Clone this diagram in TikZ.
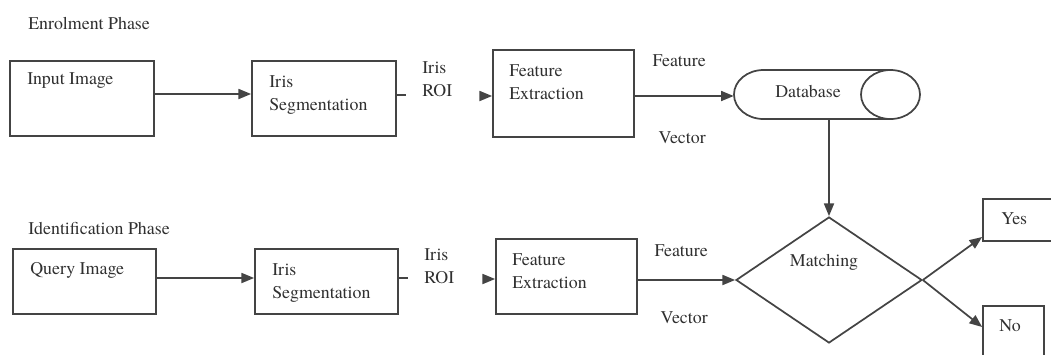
\documentclass[tikz,border=0pt]{standalone}
\usepackage{fontspec}
\setmainfont{TeX Gyre Termes}
\usetikzlibrary{shapes.geometric,arrows.meta}
\definecolor{ink}{HTML}{303030}
\definecolor{edge}{HTML}{444444}
\begin{document}
\begin{tikzpicture}[x=0.75pt,y=-0.75pt,
  ln/.style={draw=edge,line width=1.3pt},
  box/.style={ln,rectangle,inner sep=0pt},
  txt/.style={text=ink,font=\fontsize{13.4}{17.5}\selectfont,inner sep=0pt,align=left},
  arr/.style={ln,-{Triangle[length=9.5pt,width=7.5pt]}},
]
\useasboundingbox (0,0) rectangle (1051,354);
\clip (0,0) rectangle (1051,354);

% phase titles
\node[txt,anchor=west] (enrol) at (28,23) {Enrolment Phase};
\node[txt,anchor=west] (ident) at (28,228) {Identification Phase};

% ---------- enrolment row ----------
\node[box,minimum width=108pt,minimum height=56.25pt] (inp) at (82,98.5) {};
\node[txt,anchor=west] (inpT) at (27,81) {Input Image};
\node[box,minimum width=108pt,minimum height=56.25pt] (seg1) at (324,98.5) {};
\node[txt,anchor=west] (seg1T) at (269,95) {Iris\\Segmentation};
\node[txt,anchor=west] (roi1) at (422,79) {Iris\\ROI};
\node[box,minimum width=105.75pt,minimum height=65.25pt] (fe1) at (563.5,93.5) {};
\node[txt,anchor=west] (fe1T) at (509,82.5) {Feature\\Extraction};
\node[txt,anchor=east] (fv1a) at (706,61) {Feature};
\node[txt,anchor=east] (fv1b) at (706,138) {Vector};

% database cylinder
\node[inner sep=0pt,minimum width=139.5pt,minimum height=36.75pt] (db) at (827,94.5) {};
\draw[ln] (890.5,70) -- (763.5,70)
  arc[start angle=90,end angle=270,x radius=22.125pt,y radius=18.375pt]
  -- (890.5,119);
\draw[ln] (890.5,94.5) ellipse[x radius=22.125pt,y radius=18.375pt];
\node[txt] (dbT) at (808,91) {Database};

\coordinate (s1) at (481,96);
\draw[arr] (inp.east |- 0,94) -- (seg1.west |- 0,94);
\draw[ln] (seg1.east |- 0,95) -- (406,95);
\draw[arr] (s1) -- (fe1.west |- s1);
\draw[arr] (fe1.east |- 0,96) -- (db.west |- 0,96);

% ---------- identification row ----------
\node[box,minimum width=107.25pt,minimum height=48.75pt] (qry) at (84.5,281.5) {};
\node[txt,anchor=west] (qryT) at (30,270) {Query Image};
\node[box,minimum width=107.25pt,minimum height=48.75pt] (seg2) at (326.5,281.5) {};
\node[txt,anchor=west] (seg2T) at (272,283) {Iris\\Segmentation};
\node[txt,anchor=west] (roi2) at (424,266.5) {Iris\\ROI};
\node[box,minimum width=105.75pt,minimum height=56.25pt] (fe2) at (566.5,276.5) {};
\node[txt,anchor=west] (fe2T) at (512,271.5) {Feature\\Extraction};
\node[txt,anchor=east] (fv2a) at (708,251) {Feature};
\node[txt,anchor=east] (fv2b) at (708,318) {Vector};

\node[ln,diamond,inner sep=0pt,minimum width=139.5pt,minimum height=94.5pt] (match) at (829,280) {};
\node[txt] (matchT) at (824,262) {Matching};

\node[box,minimum width=61.5pt,minimum height=31.5pt] (yes) at (1024,220) {};
\node[txt,anchor=west] (yesT) at (1001,219) {Yes};
\node[box,minimum width=45.75pt,minimum height=49.5pt] (no) at (1013.5,339) {};
\node[txt,anchor=west] (noT) at (999,326) {No};

\coordinate (s2) at (484,279);
\draw[arr] (qry.east |- 0,278) -- (seg2.west |- 0,278);
\draw[ln] (seg2.east |- 0,278) -- (408,278);
\draw[arr] (s2) -- (fe2.west |- s2);
\draw[arr] (fe2.east |- match.west) -- (match.west);

\draw[arr] (match.north |- db.south) -- (match.north);
\draw[arr] (match.east) -- (yes.west |- 0,237);
\draw[arr] (match.east) -- (no.west |- 0,327);
\end{tikzpicture}
\end{document}
